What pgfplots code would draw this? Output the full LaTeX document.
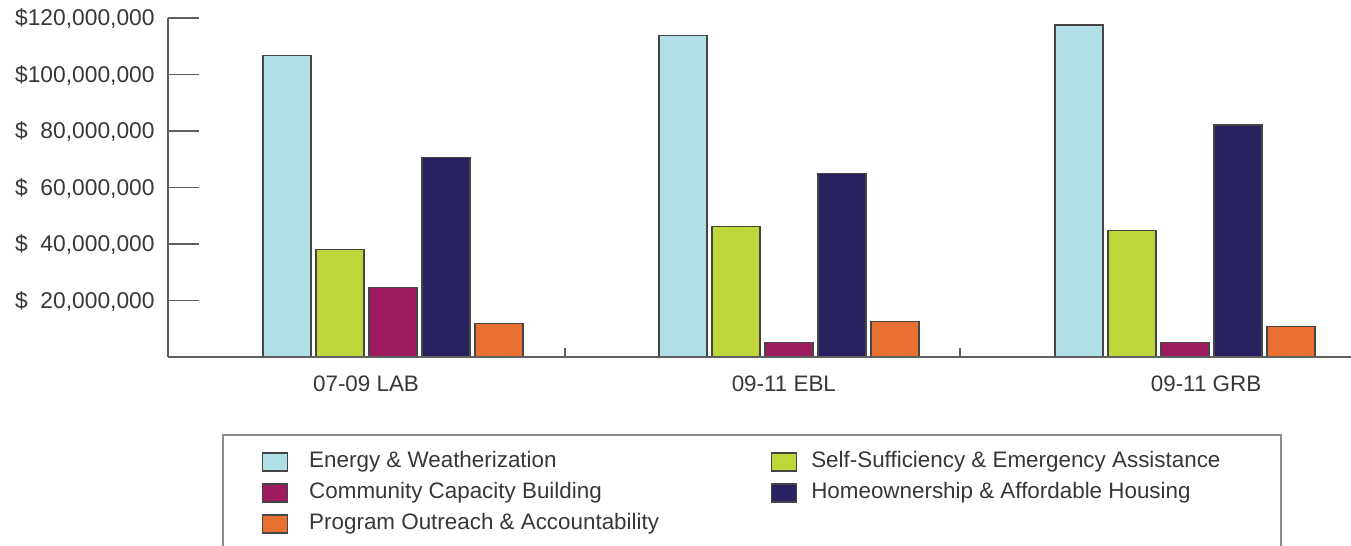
\documentclass[border=0pt]{standalone}
\usepackage{fontspec}
\setmainfont{Liberation Sans}
\usepackage{pgfplots}
\pgfplotsset{compat=1.18}
\definecolor{cEnergy}{RGB}{176,223,229}
\definecolor{cSelf}{RGB}{190,214,58}
\definecolor{cComm}{RGB}{158,27,95}
\definecolor{cHome}{RGB}{39,33,96}
\definecolor{cProg}{RGB}{232,113,50}
\definecolor{txt}{RGB}{55,55,55}
\definecolor{axc}{RGB}{95,95,95}
\definecolor{barline}{RGB}{70,70,70}
\definecolor{legline}{RGB}{140,140,140}
\begin{document}
\fontsize{11.2pt}{13pt}\selectfont
\begin{tikzpicture}
\begin{axis}[
  at={(0,0)}, anchor=south west,
  scale only axis, width=591.5pt, height=169.5pt,
  ybar=2.5pt, bar width=24pt,
  xmin=-0.568, xmax=2.419, ymin=0, ymax=120000000,
  axis x line=bottom, axis y line=left,
  axis line style={-, draw=axc, line width=0.75pt},
  tick align=inside,
  major tick length=15.5pt,
  scaled y ticks=false,
  ytick={20000000,40000000,60000000,80000000,100000000,120000000},
  yticklabels={{\$\phantom{1}20,000,000},{\$\phantom{1}40,000,000},{\$\phantom{1}60,000,000},{\$\phantom{1}80,000,000},{\$100,000,000},{\$120,000,000}},
  yticklabel style={anchor=mid east, inner sep=0pt, xshift=-6.5pt, yshift=-0.8pt, text=txt, font=\fontsize{11.4pt}{13pt}\selectfont},
  ytick style={draw=axc, line width=0.75pt},
  xtick={-0.068,0.987,2.053},
  xticklabels={07-09 LAB,09-11 EBL,09-11 GRB},
  xticklabel style={anchor=base, inner sep=0pt, yshift=-17pt, text=txt, font=\fontsize{11.2pt}{13pt}\selectfont},
  xtick style={draw=none},
  legend columns=2,
  legend cell align=left,
  legend image code/.code={\draw[#1, line width=0.6pt] (0pt,-4.5pt) rectangle (12.5pt,4.5pt);},
  legend style={at={(0.0795,-0.2794)}, anchor=north west, draw=none, fill=none,
    inner sep=0pt, outer sep=0pt, text=txt, font=\fontsize{11.2pt}{13pt}\selectfont,
    nodes={inner sep=0pt, text height=8pt, text depth=2.3pt},
    /tikz/column 1/.style={column sep=10.5pt},
    /tikz/column 2/.style={column sep=56pt},
    /tikz/column 3/.style={column sep=7pt},
    row sep=5.2pt},
]
\addplot[fill=cEnergy, draw=barline, line width=0.6pt] coordinates {(0,106700000) (1,113700000) (2,117500000)};
\addlegendentry{Energy \& Weatherization}
\addplot[fill=cSelf, draw=barline, line width=0.6pt] coordinates {(0,38100000) (1,46100000) (2,44800000)};
\addlegendentry{Self-Sufficiency \& Emergency Assistance}
\addplot[fill=cComm, draw=barline, line width=0.6pt] coordinates {(0,24500000) (1,5200000) (2,5100000)};
\addlegendentry{Community Capacity Building}
\addplot[fill=cHome, draw=barline, line width=0.6pt] coordinates {(0,70700000) (1,64900000) (2,82100000)};
\addlegendentry{Homeownership \& Affordable Housing}
\addplot[fill=cProg, draw=barline, line width=0.6pt] coordinates {(0,11900000) (1,12500000) (2,10900000)};
\addlegendentry{Program Outreach \& Accountability}
\end{axis}
\begin{axis}[
  at={(0,0)}, anchor=south west,
  scale only axis, width=591.5pt, height=169.5pt,
  xmin=-0.568, xmax=2.419, ymin=0, ymax=1,
  axis x line=bottom, axis y line=none,
  axis line style={-, draw=axc, line width=0.75pt},
  tick align=inside,
  major tick length=4.5pt,
  xtick={0.434,1.432}, xticklabels={},
  ytick=\empty,
  xtick style={draw=axc, line width=0.75pt},
]
\end{axis}
\draw[draw=legline, line width=0.75pt] (27.5pt,-110pt) -- (27.5pt,-39pt) -- (556.5pt,-39pt) -- (556.5pt,-110pt);
\pgfresetboundingbox
\useasboundingbox (-84pt,-94.5pt) rectangle (591.5pt,178.5pt);
\end{tikzpicture}
\end{document}
